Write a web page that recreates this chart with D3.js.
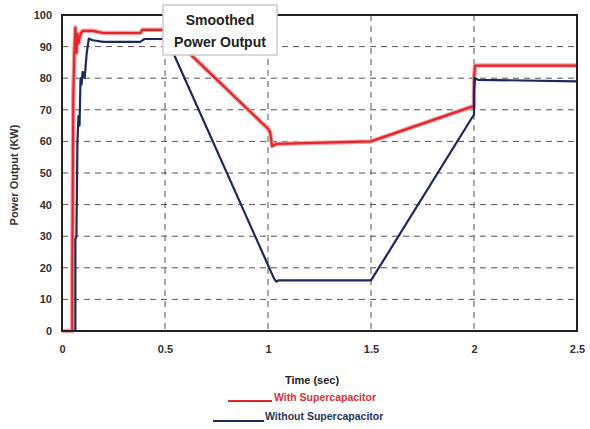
<!DOCTYPE html>
<html><head><meta charset="utf-8">
<script src="https://cdn.jsdelivr.net/npm/d3@7"></script>
<style>body{margin:0;background:#fff}svg{display:block}text{font-family:"Liberation Sans",Arial,sans-serif}</style>
</head><body>
<svg id="c" width="590" height="429"></svg>
<script>
const xTicks = [0, 0.5, 1, 1.5, 2, 2.5];
const xTickLabels = ["0", "0.5", "1", "1.5", "2", "2.5"];
const yTicks = [0, 10, 20, 30, 40, 50, 60, 70, 80, 90, 100];
const withTime = [0, 0.05, 0.05, 0.055, 0.06, 0.065, 0.07, 0.075, 0.08, 0.09, 0.1, 0.15, 0.2, 0.38, 0.39, 0.5, 1.0, 1.01, 1.02, 1.04, 1.5, 1.99, 2.0, 2.0, 2.005, 2.5];
const withPower = [0, 0, 20, 75, 88, 96, 88, 94, 91, 94, 95, 95, 94.3, 94.3, 95.3, 95.3, 64, 63, 58.5, 59.2, 60, 71, 71, 80, 84, 84];
const withoutTime = [0, 0.065, 0.065, 0.07, 0.075, 0.08, 0.085, 0.09, 0.095, 0.1, 0.11, 0.12, 0.13, 0.15, 0.2, 0.38, 0.4, 0.51, 1.03, 1.04, 1.05, 1.5, 2.0, 2.0, 2.005, 2.02, 2.5];
const withoutPower = [0, 0, 29, 30, 60, 68, 65, 80, 78, 82, 80, 88, 92.5, 92, 91.5, 91.5, 92.4, 92.4, 16.5, 15.6, 16, 16, 68.5, 76, 80, 79.5, 79];
const seriesNames = ["With Supercapacitor", "Without Supercapacitor"];
const seriesColors = ["#e3262c", "#1b2a5c"];

const svg = d3.select("#c");
const L = 62, R = 577, T = 15, B = 331;
const x = d3.scaleLinear().domain([0, 2.5]).range([L, R]);
const y = d3.scaleLinear().domain([0, 100]).range([B, T]);

// grid
svg.append("g").selectAll("line").data(yTicks.filter(d => d > 0 && d < 100)).join("line")
  .attr("x1", L).attr("x2", R).attr("y1", d => y(d)).attr("y2", d => y(d))
  .attr("stroke", "#555").attr("stroke-width", 1).attr("stroke-dasharray", "6,5");
svg.append("g").selectAll("line").data(xTicks.filter(d => d > 0 && d < 2.5)).join("line")
  .attr("y1", T).attr("y2", B).attr("x1", d => x(d)).attr("x2", d => x(d))
  .attr("stroke", "#555").attr("stroke-width", 1).attr("stroke-dasharray", "6,5");

// axes labels via d3 axes
const ya = svg.append("g").attr("transform", `translate(${L},0)`)
  .call(d3.axisLeft(y).tickValues(yTicks).tickSize(0).tickPadding(10));
ya.select(".domain").remove();
ya.selectAll("text").attr("font-size", 11).attr("font-weight", "bold").attr("fill", "#333").attr("font-family", "Liberation Sans, Arial, sans-serif");

const xa = svg.append("g").attr("transform", `translate(0,${B})`)
  .call(d3.axisBottom(x).tickValues(xTicks).tickFormat((d, i) => xTickLabels[i]).tickSize(0).tickPadding(14));
xa.select(".domain").remove();
xa.selectAll("text").attr("font-size", 11).attr("font-weight", "bold").attr("fill", "#333").attr("font-family", "Liberation Sans, Arial, sans-serif");

// lines
const line = d3.line().x(d => x(d[0])).y(d => y(d[1]));
const withData = withTime.map((t, i) => [t, withPower[i]]);
const withoutData = withoutTime.map((t, i) => [t, withoutPower[i]]);
svg.append("path").datum(withData).attr("d", line).attr("fill", "none")
  .attr("stroke", "#f4a0a4").attr("stroke-width", 4.5).attr("stroke-linejoin", "round");
svg.append("path").datum(withData).attr("d", line).attr("fill", "none")
  .attr("stroke", seriesColors[0]).attr("stroke-width", 2.2).attr("stroke-linejoin", "round");
svg.append("path").datum(withoutData).attr("d", line).attr("fill", "none")
  .attr("stroke", seriesColors[1]).attr("stroke-width", 2.2).attr("stroke-linejoin", "round");

// frame
svg.append("rect").attr("x", L).attr("y", T).attr("width", R - L).attr("height", B - T)
  .attr("fill", "none").attr("stroke", "#222").attr("stroke-width", 2);

// annotation box
svg.append("rect").attr("x", 163).attr("y", 5).attr("width", 114).attr("height", 50)
  .attr("fill", "#fff").attr("stroke", "#ccc").attr("stroke-width", 1.5);
svg.append("text").attr("x", 220).attr("y", 25).attr("text-anchor", "middle")
  .attr("font-size", 14).attr("font-weight", "bold").attr("fill", "#222").text("Smoothed");
svg.append("text").attr("x", 220).attr("y", 47).attr("text-anchor", "middle")
  .attr("font-size", 14).attr("font-weight", "bold").attr("fill", "#222").text("Power Output");

// axis titles
svg.append("text").attr("transform", "translate(18,175) rotate(-90)").attr("text-anchor", "middle")
  .attr("font-size", 11).attr("font-weight", "bold").attr("fill", "#333").text("Power Output (KW)");
svg.append("text").attr("x", 312).attr("y", 384).attr("text-anchor", "middle")
  .attr("font-size", 11).attr("font-weight", "bold").attr("fill", "#222").text("Time (sec)");

// legend
const leg = [{x1: 228, x2: 272, y: 401, tx: 274, ty: 401}, {x1: 213, x2: 264, y: 421, tx: 265, ty: 420}];
leg.forEach((p, i) => {
  svg.append("line").attr("x1", p.x1).attr("x2", p.x2).attr("y1", p.y).attr("y2", p.y)
    .attr("stroke", seriesColors[i]).attr("stroke-width", 2);
  svg.append("text").attr("x", p.tx).attr("y", p.ty).attr("font-size", 10.5).attr("font-weight", "bold")
    .attr("fill", i === 0 ? "#e03035" : "#2a3560").text(seriesNames[i]);
});
</script>
</body></html>
